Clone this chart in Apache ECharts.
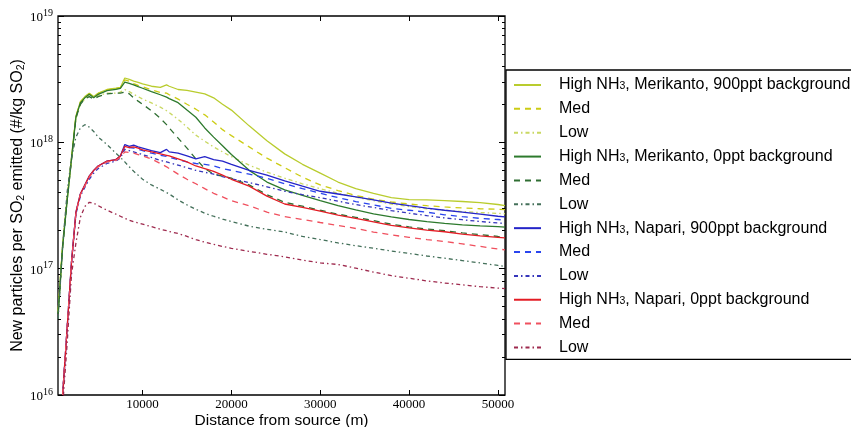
<!DOCTYPE html>
<html>
<head>
<meta charset="utf-8">
<script src="https://cdn.jsdelivr.net/npm/echarts@6/dist/echarts.min.js"></script>
<style>html,body{margin:0;padding:0;background:#fff}#c{width:851px;height:427px}</style>
</head>
<body>
<div id="c"></div>
<script>
// Distance from source (m)
const distance = [500,1000,1500,2000,2500,3000,3500,4000,4500,5000,6000,7000,7500,8000,8500,9000,9500,10000,11000,12000,12700,13000,14000,15000,16000,17000,18000,19000,20000,22000,24000,26000,28000,30000,32000,34000,36000,38000,40000,42000,44000,46000,48000,50000,50800];

// Merikanto, 900ppt background
const merik900High = [4.6e16,1.55e17,3.5e17,7.6e17,1.62e18,2.1e18,2.3e18,2.45e18,2.3e18,2.45e18,2.62e18,2.68e18,2.72e18,3.23e18,3.15e18,3.05e18,2.98e18,2.9e18,2.78e18,2.72e18,2.85e18,2.78e18,2.62e18,2.58e18,2.5e18,2.42e18,2.25e18,2.0e18,1.8e18,1.35e18,1.03e18,8.1e17,6.7e17,5.7e17,4.85e17,4.3e17,3.95e17,3.65e17,3.52e17,3.5e17,3.45e17,3.4e17,3.33e17,3.22e17,3.15e17];
const merik900Med = [4.6e16,1.55e17,3.5e17,7.5e17,1.6e18,2.08e18,2.28e18,2.42e18,2.3e18,2.43e18,2.6e18,2.66e18,2.7e18,3.12e18,3.05e18,2.92e18,2.82e18,2.75e18,2.6e18,2.48e18,2.45e18,2.38e18,2.2e18,2.0e18,1.83e18,1.65e18,1.45e18,1.26e18,1.13e18,9.2e17,7.5e17,6.3e17,5.3e17,4.6e17,4.15e17,3.8e17,3.55e17,3.37e17,3.25e17,3.15e17,3.08e17,3.02e17,2.98e17,2.95e17,2.93e17];
const merik900Low = [4.5e16,1.5e17,3.4e17,7.3e17,1.55e18,2.0e18,2.2e18,2.35e18,2.25e18,2.35e18,2.45e18,2.45e18,2.5e18,2.62e18,2.52e18,2.4e18,2.3e18,2.2e18,2.05e18,1.9e18,1.78e18,1.72e18,1.52e18,1.32e18,1.14e18,1.02e18,9.2e17,8.4e17,7.7e17,6.6e17,5.8e17,5.2e17,4.7e17,4.3e17,3.95e17,3.68e17,3.45e17,3.25e17,3.1e17,2.98e17,2.9e17,2.83e17,2.78e17,2.74e17,2.72e17];

// Merikanto, 0ppt background
const merik0High = [4.4e16,1.48e17,3.4e17,7.4e17,1.59e18,2.05e18,2.25e18,2.4e18,2.25e18,2.4e18,2.57e18,2.63e18,2.67e18,3.0e18,2.93e18,2.85e18,2.76e18,2.68e18,2.52e18,2.38e18,2.28e18,2.22e18,2.06e18,1.8e18,1.58e18,1.3e18,1.1e18,9.4e17,8.0e17,6.0e17,4.85e17,4.2e17,3.8e17,3.45e17,3.15e17,2.92e17,2.72e17,2.57e17,2.45e17,2.36e17,2.28e17,2.22e17,2.18e17,2.15e17,2.13e17];
const merik0Med = [4.4e16,1.48e17,3.4e17,7.3e17,1.55e18,2.0e18,2.2e18,2.3e18,2.2e18,2.3e18,2.42e18,2.45e18,2.45e18,2.5e18,2.42e18,2.25e18,2.12e18,2.0e18,1.78e18,1.55e18,1.38e18,1.3e18,1.08e18,9.0e17,7.4e17,6.2e17,5.6e17,5.4e17,5.2e17,4.6e17,3.85e17,3.35e17,3.12e17,2.9e17,2.7e17,2.55e17,2.4e17,2.25e17,2.14e17,2.06e17,2.0e17,1.92e17,1.86e17,1.8e17,1.78e17];
const merik0Low = [4e16,1.5e17,4e17,7.5e17,1.1e18,1.3e18,1.38e18,1.32e18,1.22e18,1.1e18,9.6e17,8.2e17,7.6e17,7.0e17,6.4e17,5.9e17,5.5e17,5.1e17,4.6e17,4.25e17,4.0e17,3.9e17,3.5e17,3.2e17,2.95e17,2.75e17,2.6e17,2.47e17,2.36e17,2.17e17,2.05e17,1.95e17,1.8e17,1.7e17,1.6e17,1.52e17,1.45e17,1.38e17,1.32e17,1.26e17,1.21e17,1.16e17,1.11e17,1.06e17,1.04e17];

// Napari, 900ppt background
const napari900High = [null,1.0e16,3.3e16,1.13e17,2.8e17,3.9e17,4.6e17,5.4e17,6.0e17,6.5e17,7.1e17,7.3e17,7.8e17,9.6e17,9.3e17,9.5e17,9.2e17,9.0e17,8.6e17,8.3e17,8.8e17,8.4e17,8.2e17,7.8e17,7.4e17,7.7e17,7.3e17,7.1e17,6.7e17,6.0e17,5.5e17,4.95e17,4.5e17,4.1e17,3.9e17,3.7e17,3.5e17,3.3e17,3.15e17,3.02e17,2.9e17,2.8e17,2.7e17,2.6e17,2.57e17];
const napari900Med = [null,1.0e16,3.3e16,1.12e17,2.78e17,3.88e17,4.55e17,5.35e17,5.95e17,6.45e17,7.05e17,7.25e17,7.7e17,9.3e17,9.1e17,9.0e17,8.8e17,8.6e17,8.2e17,7.9e17,7.75e17,7.6e17,7.3e17,7.0e17,6.8e17,6.7e17,6.5e17,6.2e17,6.0e17,5.6e17,5.2e17,4.7e17,4.3e17,3.95e17,3.65e17,3.4e17,3.2e17,3.0e17,2.9e17,2.8e17,2.67e17,2.58e17,2.5e17,2.45e17,2.42e17];
const napari900Low = [null,1.0e16,3.2e16,1.1e17,2.7e17,3.75e17,4.4e17,5.1e17,5.7e17,6.2e17,6.8e17,7.1e17,7.5e17,8.8e17,8.6e17,8.4e17,8.2e17,8.0e17,7.6e17,7.2e17,7.0e17,6.9e17,6.6e17,6.3e17,6.0e17,5.8e17,5.6e17,5.35e17,5.15e17,4.8e17,4.45e17,4.1e17,3.85e17,3.65e17,3.42e17,3.22e17,3.05e17,2.88e17,2.75e17,2.63e17,2.52e17,2.44e17,2.36e17,2.3e17,2.28e17];

// Napari, 0ppt background
const napari0High = [null,1.0e16,3.3e16,1.13e17,2.8e17,3.9e17,4.6e17,5.4e17,6.0e17,6.5e17,7.1e17,7.3e17,7.8e17,9.3e17,9.1e17,9.2e17,9.0e17,8.7e17,8.4e17,8.1e17,7.9e17,7.8e17,7.4e17,7.0e17,6.5e17,6.2e17,5.9e17,5.5e17,5.1e17,4.5e17,3.75e17,3.25e17,3.05e17,2.85e17,2.65e17,2.5e17,2.35e17,2.2e17,2.1e17,2.02e17,1.96e17,1.88e17,1.82e17,1.77e17,1.75e17];
const napari0Med = [null,1.0e16,3.3e16,1.12e17,2.75e17,3.85e17,4.5e17,5.3e17,5.9e17,6.4e17,7.0e17,7.2e17,7.6e17,8.4e17,8.3e17,8.2e17,8.0e17,7.8e17,7.4e17,6.8e17,6.4e17,6.2e17,5.6e17,5.1e17,4.7e17,4.3e17,3.95e17,3.7e17,3.45e17,3.15e17,2.8e17,2.58e17,2.45e17,2.32e17,2.2e17,2.08e17,1.95e17,1.85e17,1.77e17,1.7e17,1.64e17,1.57e17,1.5e17,1.43e17,1.41e17];
const napari0Low = [null,8e15,2.5e16,9e16,1.6e17,2.55e17,3.1e17,3.35e17,3.3e17,3.15e17,2.9e17,2.7e17,2.6e17,2.5e17,2.42e17,2.35e17,2.3e17,2.25e17,2.15e17,2.05e17,2.0e17,1.97e17,1.9e17,1.8e17,1.7e17,1.62e17,1.56e17,1.5e17,1.45e17,1.37e17,1.3e17,1.24e17,1.17e17,1.11e17,1.08e17,1.01e17,9.4e16,8.8e16,8.4e16,8.0e16,7.7e16,7.45e16,7.2e16,7.02e16,6.95e16];

// Legend labels (display text) and series keys
const seriesKeys = ['m900High','m900Med','m900Low','m0High','m0Med','m0Low','n900High','n900Med','n900Low','n0High','n0Med','n0Low'];
const legendLabels = ['High NH3, Merikanto, 900ppt background','Med','Low','High NH3, Merikanto, 0ppt background','Med','Low','High NH3, Napari, 900ppt background','Med','Low','High NH3, Napari, 0ppt background','Med','Low'];
const seriesValues = [merik900High,merik900Med,merik900Low,merik0High,merik0Med,merik0Low,napari900High,napari900Med,napari900Low,napari0High,napari0Med,napari0Low];

// Axis ticks
const xTicks = [10000,20000,30000,40000,50000];
const yMinorTicks = [2e16,3e16,4e16,5e16,6e16,7e16,8e16,9e16,2e17,3e17,4e17,5e17,6e17,7e17,8e17,9e17,2e18,3e18,4e18,5e18,6e18,7e18,8e18,9e18];

// Styles
const seriesColors = ['#b9cc2e','#cccc14','#c9d862','#2d7a2d','#2f6e32','#44705a','#2424c8','#2a45ee','#3636bb','#e31c24','#f0505e','#9e2a4e'];
const DASH = [6,5];
const DOT = [4,3,1.5,3];
const seriesTypes = ['solid',DASH,DOT,'solid',DASH,DOT,'solid',DASH,DOT,'solid',DASH,DOT];

const chart = echarts.init(document.getElementById('c'), null, {renderer:'canvas'});

const series = seriesKeys.map((k,i) => ({
  name: k,
  type: 'line',
  xAxisIndex: 0,
  yAxisIndex: 0,
  symbol: 'none',
  showSymbol: false,
  animation: false,
  color: seriesColors[i],
  lineStyle: {color: seriesColors[i], width: 1.3, type: seriesTypes[i]},
  itemStyle: {color: seriesColors[i], opacity: 0},
  data: distance.map((d,j) => [d, seriesValues[i][j]]).filter(p => p[1] != null),
  z: 2 + i
}));

const minorLog = yMinorTicks.map(v => Math.log10(v));
const serif = 'Liberation Serif';
const sans = 'Liberation Sans';

const option = {
  animation: false,
  backgroundColor: '#fff',
  grid: {left: 58, right: 346, top: 16, bottom: 32, show: true, borderColor: '#000', borderWidth: 1.3,
         backgroundColor: 'transparent', containLabel: false, outerBoundsMode: 'none'},
  xAxis: [
    {type: 'value', position: 'bottom', min: 480, max: 50800,
     name: 'Distance from source (m)', nameLocation: 'middle', nameGap: 18, nameMoveOverlap: false,
     nameTextStyle: {fontFamily: sans, fontSize: 15.5, color: '#000'},
     axisLine: {show: false}, splitLine: {show: false},
     axisTick: {inside: true, length: 5, customValues: xTicks, lineStyle: {color: '#000', width: 1}},
     axisLabel: {customValues: xTicks, margin: 3, fontFamily: serif, fontSize: 13, color: '#000',
                 formatter: v => String(v)}},
    {type: 'value', position: 'top', min: 480, max: 50800,
     axisLine: {show: false}, splitLine: {show: false},
     axisTick: {inside: true, length: 5, customValues: xTicks, lineStyle: {color: '#000', width: 1}},
     axisLabel: {show: false}}
  ],
  yAxis: [
    {type: 'log', logBase: 10, position: 'left', min: 1e16, max: 1e19,
     name: '{t|New particles per SO}{s|2}{t| emitted (#/kg SO}{s|2}{t|)}',
     nameLocation: 'middle', nameGap: 31, nameMoveOverlap: false,
     nameTextStyle: {fontFamily: sans, fontSize: 16, color: '#000',
       rich: {t: {fontFamily: sans, fontSize: 16, color: '#000', lineHeight: 18},
              s: {fontFamily: sans, fontSize: 10.5, color: '#000', lineHeight: 9, verticalAlign: 'bottom'}}},
     axisLine: {show: false}, splitLine: {show: false}, minorTick: {show: false},
     axisTick: {inside: true, length: 6, lineStyle: {color: '#000', width: 1}},
     axisLabel: {margin: 5, color: '#000',
       formatter: v => '{b|10}{s|' + Math.round(Math.log10(v)) + '}',
       rich: {b: {fontFamily: serif, fontSize: 13, color: '#000', lineHeight: 16, verticalAlign: 'bottom'},
              s: {fontFamily: serif, fontSize: 10, color: '#000', lineHeight: 16, verticalAlign: 'top'}}}},
    {type: 'value', position: 'left', min: 16, max: 19,
     axisLine: {show: false}, splitLine: {show: false},
     axisTick: {inside: true, length: 3, customValues: minorLog, lineStyle: {color: '#000', width: 1}},
     axisLabel: {show: false}},
    {type: 'log', logBase: 10, position: 'right', min: 1e16, max: 1e19,
     axisLine: {show: false}, splitLine: {show: false},
     axisTick: {inside: true, length: 6, lineStyle: {color: '#000', width: 1}},
     axisLabel: {show: false}},
    {type: 'value', position: 'right', min: 16, max: 19,
     axisLine: {show: false}, splitLine: {show: false},
     axisTick: {inside: true, length: 3, customValues: minorLog, lineStyle: {color: '#000', width: 1}},
     axisLabel: {show: false}}
  ],
  legend: {
    orient: 'vertical',
    left: 506, top: 70,
    padding: [7, 40, 4, 7],
    backgroundColor: '#fff',
    borderColor: '#000', borderWidth: 1.3, borderRadius: 0,
    itemWidth: 27, itemHeight: 14, itemGap: 7.86,
    itemStyle: {opacity: 0},
    data: seriesKeys,
    formatter: name => {
      const lbl = legendLabels[seriesKeys.indexOf(name)];
      return '{g|}{t|' + lbl.replace('NH3', 'NH}{s|3}{t|') + '}';
    },
    textStyle: {fontFamily: sans, fontSize: 16, color: '#000', lineHeight: 14,
      rich: {g: {width: 13, lineHeight: 14},
             t: {fontFamily: sans, fontSize: 16, color: '#000', lineHeight: 14},
             s: {fontFamily: sans, fontSize: 10.5, color: '#000', lineHeight: 8, verticalAlign: 'bottom'}}},
    selectedMode: false
  },
  series: series
};
chart.setOption(option);
</script>
</body>
</html>
